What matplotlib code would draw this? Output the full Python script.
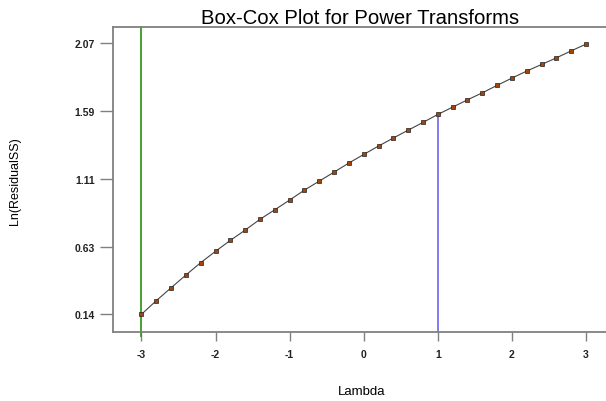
import numpy as np
import matplotlib.pyplot as plt

plt.rcParams['font.family'] = ['Liberation Sans', 'DejaVu Sans']

# lambda grid and ln(residual SS)
lam = [-3.0, -2.8, -2.6, -2.4, -2.2, -2.0, -1.8, -1.6, -1.4, -1.2, -1.0,
       -0.8, -0.6, -0.4, -0.2, 0.0, 0.2, 0.4, 0.6, 0.8, 1.0,
       1.2, 1.4, 1.6, 1.8, 2.0, 2.2, 2.4, 2.6, 2.8, 3.0]
ln_ss = [0.140, 0.237, 0.329, 0.420, 0.508, 0.589, 0.667, 0.740, 0.817, 0.885, 0.954,
         1.025, 1.089, 1.153, 1.218, 1.279, 1.339, 1.396, 1.452, 1.507, 1.564,
         1.616, 1.668, 1.718, 1.771, 1.823, 1.873, 1.920, 1.967, 2.017, 2.065]
lam_min = -3.0
lam_best = 1.0
yticks = [0.14, 0.6225, 1.105, 1.5875, 2.07]
ylabels = ["0.14", "0.63", "1.11", "1.59", "2.07"]
xticks = [-3, -2, -1, 0, 1, 2, 3]

fig = plt.figure(figsize=(6.06, 4.02), dpi=100)
ax = fig.add_axes([0.187, 0.1724, 0.813, 0.7576])

ax.set_xlim(-3.38, 3.27)
ax.set_ylim(0.016, 2.186)

ax.axvline(lam_min, color="#3a9a22", lw=1.3, zorder=2, clip_on=False, ymin=-0.015)
ax.plot([lam_best, lam_best], [0.016, ln_ss[lam.index(lam_best)]],
        color="#6f63f0", lw=1.2, zorder=2)

ax.plot(lam, ln_ss, color="#444444", lw=0.8, zorder=3)
ax.plot(lam, ln_ss, ls="none", marker="s", ms=2.3, mfc="#a0460c",
        mec="#222222", mew=0.5, zorder=4)

ax.set_xticks(xticks)
ax.set_xticklabels([str(t) for t in xticks])
ax.set_yticks(yticks)
ax.set_yticklabels(ylabels)
ax.tick_params(axis="y", length=9.4, width=1.0, color="#808080", pad=4,
               labelsize=7.5)
ax.tick_params(axis="x", length=6.5, width=1.0, color="#808080", pad=6,
               labelsize=7.5)
for lab in ax.get_xticklabels() + ax.get_yticklabels():
    lab.set_fontweight("bold")
    lab.set_color("#222222")

for s in ["left", "top", "bottom"]:
    ax.spines[s].set_color("#808080")
    ax.spines[s].set_linewidth(1.3)
ax.spines["right"].set_visible(False)

ax.set_title("Box-Cox Plot for Power Transforms", fontsize=14.6, pad=3)
fig.text(0.597, 0.025, "Lambda", fontsize=9.5, ha="center", va="center")
fig.text(0.025, 0.55, "Ln(ResidualSS)", fontsize=9, rotation=90,
         ha="center", va="center")

fig.savefig("out.png", dpi=100)
